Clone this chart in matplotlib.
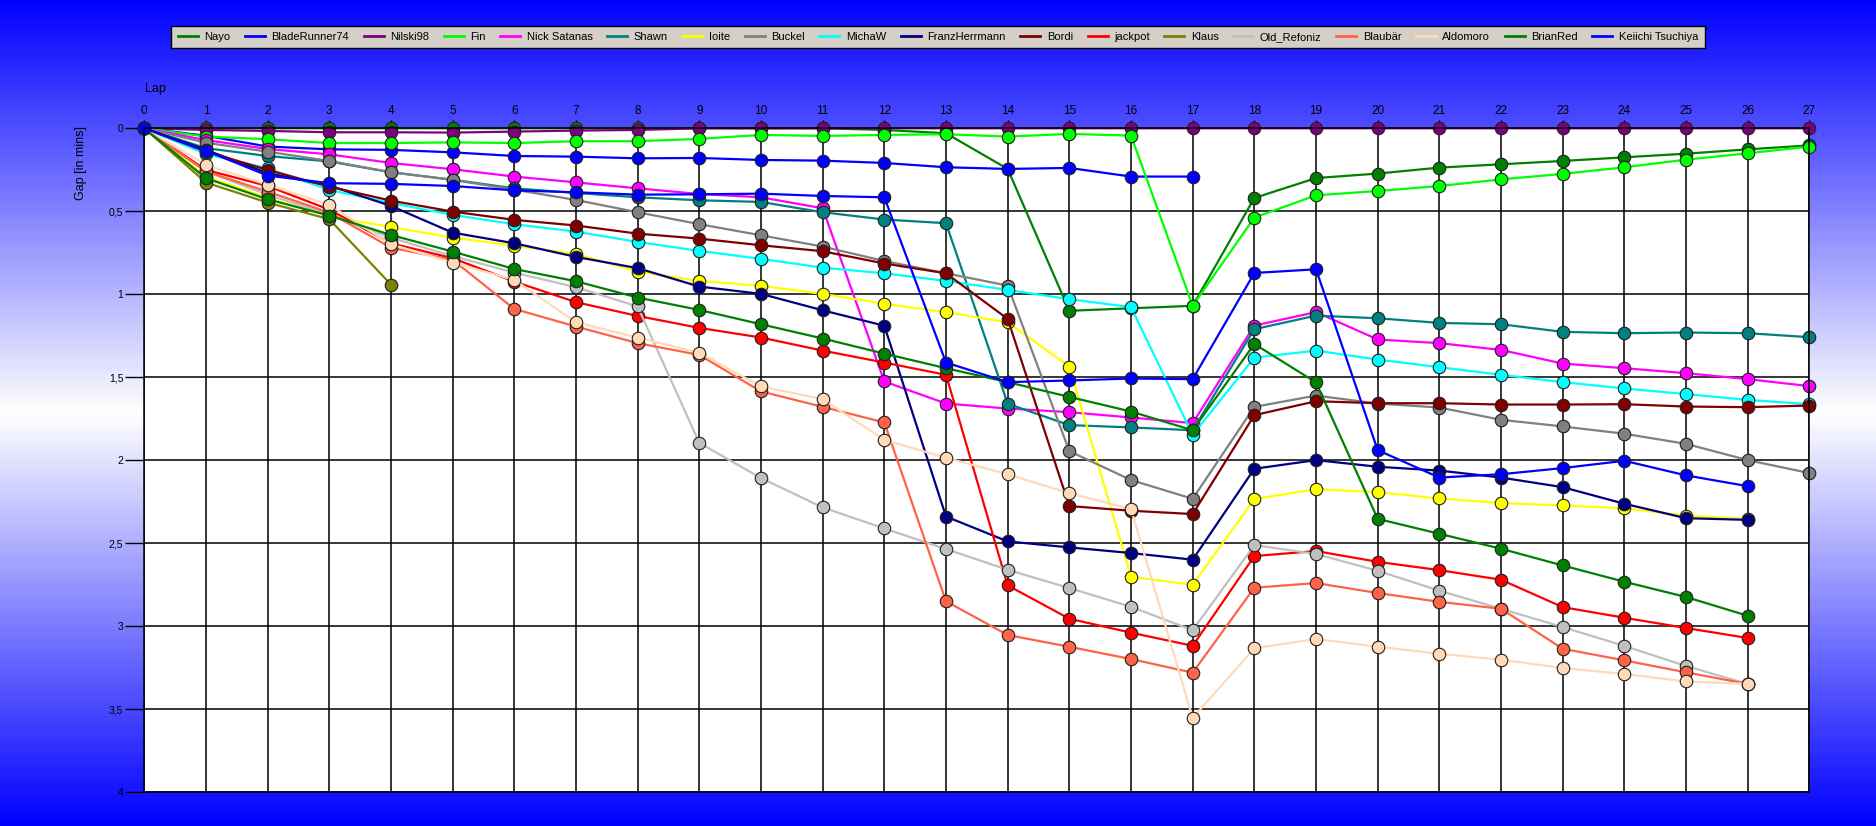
import numpy as np
import matplotlib
matplotlib.use('Agg')
import matplotlib.pyplot as plt
from matplotlib.colors import LinearSegmentedColormap
from matplotlib.ticker import FuncFormatter

nan = np.nan
laps = list(range(28))

drivers = ['Nayo', 'BladeRunner74', 'Nilski98', 'Fin', 'Nick Satanas', 'Shawn', 'Ioite',
           'Buckel', 'MichaW', 'FranzHerrmann', 'Bordi', 'jackpot', 'Klaus', 'Old_Refoniz',
           'Blaubär', 'Aldomoro', 'BrianRed', 'Keiichi Tsuchiya']
colors = ['#008000', '#0000FF', '#800080', '#00FF00', '#FF00FF', '#008080', '#FFFF00',
          '#808080', '#00FFFF', '#000080', '#800000', '#FF0000', '#808000', '#C0C0C0',
          '#FF6347', '#FFDAB9', '#008000', '#0000FF']

nayo = [0, 0, 0, 0, 0, 0, 0, 0, 0, 0, 0, 0, 0.01, 0.03, 0.245, 1.10, 1.085, 1.07,
        0.42, 0.30, 0.273, 0.237, 0.217, 0.197, 0.175, 0.153, 0.127, 0.103]
bladerunner = [0, 0.045, 0.11, 0.127, 0.13, 0.145, 0.167, 0.171, 0.181, 0.179, 0.191, 0.195,
               0.209, 0.235, 0.245, 0.239, 0.291, 0.291] + [nan] * 10
nilski = [0, 0.01, 0.016, 0.024, 0.024, 0.026, 0.02, 0.014, 0.01] + [0] * 19
fin = [0, 0.05, 0.066, 0.089, 0.089, 0.085, 0.089, 0.078, 0.078, 0.064, 0.04, 0.046, 0.04,
       0.036, 0.05, 0.034, 0.044, 1.07, 0.538, 0.404, 0.378, 0.348, 0.308, 0.275, 0.235,
       0.189, 0.151, 0.11]
nick = [0, 0.071, 0.125, 0.157, 0.209, 0.247, 0.291, 0.326, 0.362, 0.396, 0.416, 0.482,
        1.526, 1.659, 1.689, 1.711, 1.743, 1.777, 1.189, 1.108, 1.273, 1.295, 1.336, 1.418,
        1.446, 1.476, 1.512, 1.554]
shawn = [0, 0.12, 0.167, 0.2, 0.265, 0.31, 0.362, 0.39, 0.416, 0.434, 0.444, 0.506, 0.55,
         0.572, 1.66, 1.789, 1.803, 1.82, 1.211, 1.129, 1.145, 1.173, 1.181, 1.227, 1.235,
         1.231, 1.235, 1.259]
ioite = [0, 0.29, 0.42, 0.53, 0.595, 0.659, 0.707, 0.757, 0.864, 0.92, 0.95, 0.998, 1.058,
         1.109, 1.169, 1.436, 2.703, 2.751, 2.235, 2.175, 2.193, 2.231, 2.259, 2.273, 2.291,
         2.334, 2.355, nan]
buckel = [0, 0.087, 0.141, 0.197, 0.265, 0.311, 0.37, 0.432, 0.506, 0.578, 0.645, 0.713,
          0.8, 0.874, 0.948, 1.946, 2.12, 2.233, 1.679, 1.611, 1.659, 1.683, 1.757, 1.797,
          1.841, 1.902, 2.0, 2.078]
michaw = [0, 0.155, 0.241, 0.372, 0.45, 0.522, 0.578, 0.623, 0.685, 0.739, 0.787, 0.84,
          0.874, 0.92, 0.974, 1.03, 1.078, 1.848, 1.382, 1.34, 1.394, 1.44, 1.486, 1.53,
          1.568, 1.602, 1.637, 1.663]
franz = [0, 0.13, 0.27, 0.345, 0.468, 0.629, 0.693, 0.775, 0.843, 0.954, 0.998, 1.097,
         1.19, 2.34, 2.49, 2.526, 2.56, 2.6, 2.052, 2.0, 2.04, 2.063, 2.105, 2.163, 2.263,
         2.35, 2.36, nan]
bordi = [0, 0.14, 0.251, 0.352, 0.436, 0.502, 0.552, 0.586, 0.635, 0.665, 0.705, 0.741,
         0.815, 0.874, 1.149, 2.277, 2.305, 2.325, 1.729, 1.645, 1.657, 1.657, 1.665, 1.665,
         1.663, 1.677, 1.681, 1.671]
jackpot = [0, 0.251, 0.348, 0.49, 0.693, 0.783, 0.924, 1.048, 1.131, 1.203, 1.261, 1.34,
           1.412, 1.486, 2.755, 2.956, 3.04, 3.119, 2.578, 2.548, 2.613, 2.663, 2.721,
           2.886, 2.95, 3.012, 3.072, nan]
klaus = [0, 0.327, 0.448, 0.548, 0.942] + [nan] * 23
refoniz = [0, 0.261, 0.4, 0.52, 0.66, 0.77, 0.87, 0.958, 1.074, 1.896, 2.108, 2.285, 2.412,
           2.536, 2.661, 2.771, 2.884, 3.025, 2.512, 2.566, 2.667, 2.787, 2.896, 3.006,
           3.12, 3.241, 3.349, nan]
blaubaer = [0, 0.26, 0.382, 0.508, 0.72, 0.793, 1.089, 1.195, 1.295, 1.366, 1.586, 1.679,
            1.773, 2.851, 3.054, 3.125, 3.199, 3.281, 2.769, 2.741, 2.801, 2.854, 2.896,
            3.137, 3.207, 3.279, 3.349, nan]
aldomoro = [0, 0.221, 0.34, 0.462, 0.699, 0.81, 0.914, 1.169, 1.261, 1.354, 1.556, 1.633,
            1.878, 1.986, 2.085, 2.199, 2.295, 3.554, 3.134, 3.078, 3.125, 3.167, 3.203,
            3.253, 3.289, 3.334, 3.349, nan]
brianred = [0, 0.301, 0.428, 0.526, 0.643, 0.743, 0.848, 0.922, 1.02, 1.095, 1.181, 1.267,
            1.358, 1.446, 1.53, 1.619, 1.707, 1.82, 1.30, 1.532, 2.354, 2.444, 2.534, 2.635,
            2.733, 2.825, 2.938, nan]
keiichi = [0, 0.135, 0.285, 0.331, 0.335, 0.348, 0.374, 0.386, 0.40, 0.398, 0.394, 0.408,
           0.416, 1.412, 1.53, 1.52, 1.508, 1.512, 0.872, 0.85, 1.94, 2.105, 2.085, 2.048,
           2.004, 2.092, 2.157, nan]

gaps = [nayo, bladerunner, nilski, fin, nick, shawn, ioite, buckel, michaw, franz, bordi,
        jackpot, klaus, refoniz, blaubaer, aldomoro, brianred, keiichi]

plt.rcParams['font.family'] = ['Liberation Sans', 'DejaVu Sans']

fig = plt.figure(figsize=(18.76, 8.26), dpi=100)

# blue - white - blue background
bg = fig.add_axes([0, 0, 1, 1], zorder=-10)
cmap = LinearSegmentedColormap.from_list('bg', ['#0000FF', '#FFFFFF', '#0000FF'])
bg.imshow(np.linspace(0, 1, 256).reshape(-1, 1), aspect='auto', cmap=cmap,
          extent=[0, 1, 0, 1])
bg.set_axis_off()

ax = fig.add_axes([0.0769, 0.0412, 0.8876, 0.8035])
ax.set_facecolor('white')

for name, col, g in zip(drivers, colors, gaps):
    ax.plot(laps, g, color=col, lw=1.6, marker='o', ms=9, mfc=col, mec='#202020',
            mew=0.8, label=name, clip_on=False)

ax.set_xlim(0, 27)
ax.set_ylim(4, 0)
ax.set_xticks(laps)
ax.set_yticks(np.arange(0, 4.01, 0.5))
ax.xaxis.tick_top()
ax.tick_params(axis='x', length=6, width=1, pad=2, labelsize=8.5)
ax.tick_params(axis='y', length=14, width=1, pad=1, labelsize=7.5)
ax.yaxis.set_major_formatter(FuncFormatter(lambda v, p: ('%g' % v).replace('.', ',')))
ax.grid(True, color='black', lw=1.1)
ax.set_axisbelow(True)
for s in ax.spines.values():
    s.set_color('black')
    s.set_linewidth(1.1)

fig.text(155 / 1876, 1 - 89 / 826, 'Lap', ha='center', va='center', fontsize=9)
fig.text(81 / 1876, 1 - 163 / 826, 'Gap [in mins]', ha='center', va='center',
         rotation=90, fontsize=9)

handles = [plt.Line2D([], [], color=c, lw=2) for c in colors]
leg = fig.legend(handles, drivers, loc='center', bbox_to_anchor=(0.5, 1 - 37 / 826),
                 ncol=len(drivers), fontsize=8, frameon=True, fancybox=False,
                 handlelength=1.8, handletextpad=0.6, columnspacing=1.3,
                 borderpad=0.55, borderaxespad=0)
leg.get_frame().set_facecolor('#D4D0C8')
leg.get_frame().set_edgecolor('black')
leg.get_frame().set_alpha(1)

fig.savefig('out.png', dpi=100)
